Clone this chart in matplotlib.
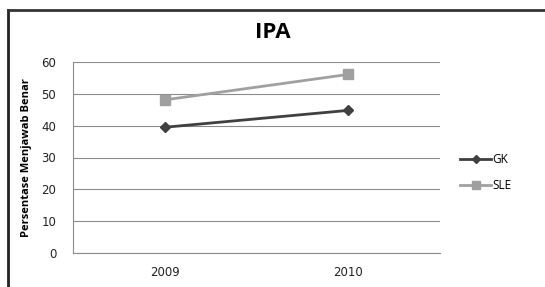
import matplotlib.pyplot as plt
from matplotlib.lines import Line2D

plt.rcParams['font.family'] = ['Open Sans', 'DejaVu Sans']

# data
years = ['2009', '2010']
gk = [39.5, 44.8]
sle = [48.1, 56.1]
yticks = [0, 10, 20, 30, 40, 50, 60]

fig = plt.figure(figsize=(5.45, 2.87), dpi=100)
ax = fig.add_axes([73 / 545, 1 - 253 / 287, 367 / 545, 191 / 287])

x = range(len(years))
ax.plot(x, gk, color='#404040', linewidth=2, marker='D', markersize=5, label='GK')
ax.plot(x, sle, color='#a0a0a0', linewidth=2, marker='s', markersize=7, label='SLE')

ax.set_xlim(-0.5, 1.5)
ax.set_ylim(0, 60)
ax.set_yticks(yticks)
ax.set_xticks(list(x))
ax.set_xticklabels(years)
for lbl in ax.get_xticklabels() + ax.get_yticklabels():
    lbl.set_family('DejaVu Sans')
    lbl.set_fontsize(8.5)
    lbl.set_color('#222222')
ax.tick_params(axis='y', length=0, pad=12)
ax.tick_params(axis='x', length=0, pad=9)
ax.grid(axis='y', color='#8c8c8c', linewidth=0.8)
ax.set_axisbelow(True)
for s in ['top', 'right']:
    ax.spines[s].set_visible(False)
ax.spines['left'].set_color('#8c8c8c')
ax.spines['bottom'].set_color('#8c8c8c')
ax.spines['left'].set_linewidth(0.8)
ax.spines['bottom'].set_linewidth(0.8)

ax.set_ylabel('Persentase Menjawab Benar', fontsize=8, fontweight='bold', labelpad=7)
fig.text(273 / 545, 1 - 33 / 287, 'IPA', fontsize=16, fontweight='bold',
         ha='center', va='center')

ax.legend(loc='center left', bbox_to_anchor=(1.055, 0.42), frameon=False,
          fontsize=8.5, handlelength=2.6, handletextpad=0.15, labelspacing=1.1,
          borderpad=0, borderaxespad=0, markerscale=0.75)

# outer frame (only left and top visible)
fig.add_artist(Line2D([7.5 / 545, 7.5 / 545], [0, 1 - 10 / 287], color='#222222', linewidth=2))
fig.add_artist(Line2D([7.5 / 545, 1], [1 - 10 / 287, 1 - 10 / 287], color='#333333', linewidth=2))

fig.savefig('out.png', dpi=100)
